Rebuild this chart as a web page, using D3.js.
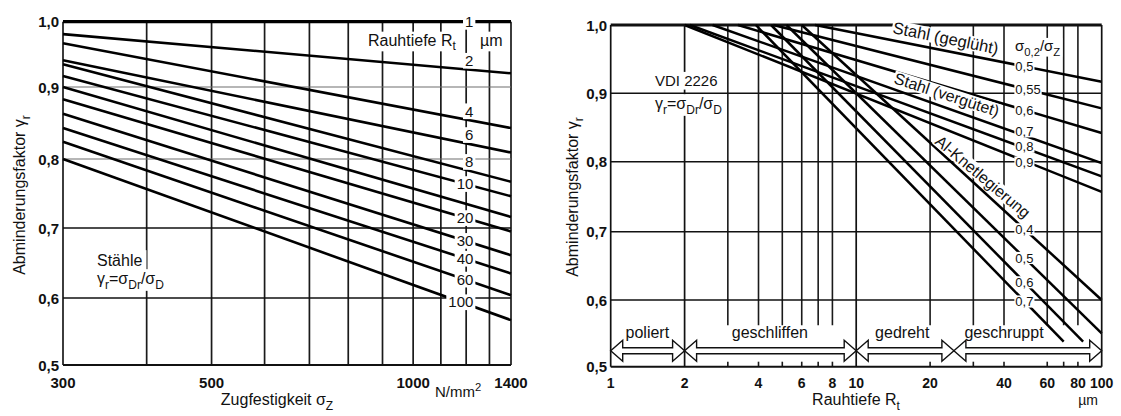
<!DOCTYPE html>
<html><head><meta charset="utf-8">
<script src="https://cdn.jsdelivr.net/npm/d3@7"></script>
<style>
body{margin:0;background:#fff}
svg{display:block}
text{font-family:"Liberation Sans",Arial,Helvetica,sans-serif;fill:#111}
</style>
</head><body>
<svg id="c" width="1121" height="416"></svg>
<script>
// ---------------- DATA ----------------
// shared y ticks (Abminderungsfaktor)
const gammaTicks = [0.5, 0.6, 0.7, 0.8, 0.9, 1.0];

// Left chart: Zugfestigkeit sigma_Z (N/mm2), log axis
const sigmaTicks = [300, 500, 1000, 1400];
const sigmaGrid = [300, 400, 500, 600, 700, 800, 900, 1000, 1100, 1200, 1300, 1400];
const rtLabels     = ["1", "2", "4", "6", "8", "10", "", "20", "30", "40", "60", "100"];
const gammaAt300   = [1.0, 0.981, 0.967, 0.941, 0.935, 0.917, 0.900, 0.883, 0.863, 0.843, 0.824, 0.800];
const gammaAt1400  = [1.0, 0.921, 0.843, 0.809, 0.767, 0.746, 0.716, 0.695, 0.661, 0.635, 0.604, 0.567];
const rtLabelAbove = [false, true, true, true, true, false, false, false, false, false, false, false];
const rtLabelAt = 1230; // label column (sigma value of right edge of labels)

// Right chart: Rauhtiefe Rt (um), log axis
const rtTicks = [1, 2, 4, 6, 8, 10, 20, 40, 60, 80, 100];
const rtGridMajor = [1, 2, 10, 100];
const rtGridMinor = [3, 4, 5, 6, 7, 8, 20, 30, 40, 60, 70, 80];
const steelRatio     = ["0,5", "0,55", "0,6", "0,7", "0,8", "0,9"];
const steelStartRt   = [6.8, 4.6, 3.3, 2.6, 2.1, 2.0];
const steelEndRt     = [100, 100, 100, 100, 100, 100];
const steelEndGamma  = [0.917, 0.878, 0.842, 0.798, 0.779, 0.757];
const alRatio        = ["0,4", "0,5", "0,6", "0,7"];
const alStartRt      = [6.0, 5.2, 4.5, 3.9];
const alEndRt        = [100, 100, 84, 70];
const alEndGamma     = [0.600, 0.550, 0.5375, 0.5375];
const ratioLabelAt = 44.5; // Rt of the label column start
const processes      = ["poliert", "geschliffen", "gedreht", "geschruppt"];
const processFrom    = [1, 2, 10, 25];
const processTo      = [2, 10, 25, 100];
const processLabelAt = [1.41, 4.45, 15.4, 40];

// ---------------- HELPERS ----------------
const svg = d3.select("#c");
svg.append("rect").attr("width", 1121).attr("height", 416).attr("fill", "#fff");

function rich(g, parts, size) {
  const t = g.append("text").attr("font-size", size);
  let shift = 0;
  parts.forEach(p => {
    const [str, kind] = Array.isArray(p) ? p : [p, null];
    const target = kind === "sub" ? size * 0.3 : kind === "sup" ? -size * 0.38 : 0;
    const ts = t.append("tspan").text(str).attr("dy", target - shift);
    if (kind) ts.attr("font-size", size * 0.75);
    shift = target;
  });
  return t;
}
function label(parent, x, y, parts, o = {}) {
  const size = o.size || 15;
  const g = parent.append("g")
    .attr("transform", `translate(${x},${y})` + (o.rotate ? ` rotate(${o.rotate})` : ""));
  const t = rich(g, parts, size)
    .attr("text-anchor", o.anchor || "start")
    .attr("font-weight", o.weight || "normal");
  if (o.knock) {
    const b = t.node().getBBox();
    const p = o.pad ?? 2;
    const top = -0.74 * size - p, bot = (o.desc ? 0.24 * size : 0.04 * size) + p;
    g.insert("rect", "text").attr("x", b.x - p).attr("y", top)
      .attr("width", b.width + 2 * p).attr("height", bot - top).attr("fill", "#fff");
  }
  return g;
}
const fmt = v => d3.format(".1f")(v).replace(".", ",");
const lerpY = (a, b, x) => a[1] + (x - a[0]) / (b[0] - a[0]) * (b[1] - a[1]);

// ---------------- LEFT CHART ----------------
const xL = d3.scaleLog().domain([300, 1400]).range([63, 511]);
const yL = d3.scaleLinear().domain(gammaTicks).range([365, 298, 228, 159, 87, 21.7]);
const gL = svg.append("g");

gL.selectAll("line.vg").data(sigmaGrid).join("line").attr("class", "vg")
  .attr("x1", d => xL(d)).attr("x2", d => xL(d))
  .attr("y1", yL(1)).attr("y2", yL(0.5))
  .attr("stroke", "#1a1a1a").attr("stroke-width", 1.7);
gL.selectAll("line.hg").data(gammaTicks.filter(v => v < 1)).join("line").attr("class", "hg")
  .attr("x1", xL(300)).attr("x2", xL(1400))
  .attr("y1", d => yL(d)).attr("y2", d => yL(d))
  .attr("stroke", d => (d === 0.8 || d === 0.9) ? "#6e6e6e" : "#111")
  .attr("stroke-width", d => (d === 0.8 || d === 0.9) ? 1.2 : (d === 0.5 ? 1.9 : 1.6));

const leftSeries = rtLabels.map((r, i) => ({
  label: r,
  p0: [xL(xL.domain()[0]), yL(gammaAt300[i])],
  p1: [xL(xL.domain()[1]), yL(gammaAt1400[i])],
  above: rtLabelAbove[i]
}));
gL.selectAll("line.curve").data(leftSeries).join("line").attr("class", "curve")
  .attr("x1", d => d.p0[0]).attr("y1", d => d.p0[1])
  .attr("x2", d => d.p1[0]).attr("y2", d => d.p1[1])
  .attr("stroke", "#000").attr("stroke-width", (d, i) => i === 0 ? 3.2 : 2.6);

// axes text left
gammaTicks.forEach(v => label(gL, 59, yL(v) + 5.5, [fmt(v)], { size: 15, anchor: "end", weight: "bold" }));
sigmaTicks.forEach(v => label(gL, xL(v), 388, [String(v)], { size: 15, anchor: "middle", weight: "bold" }));
label(gL, 435, 397, ["N/mm", ["2", "sup"]], { size: 15 });
label(gL, 277, 405, ["Zugfestigkeit σ", ["Z", "sub"]], { size: 16, anchor: "middle" });
label(gL, 25, 195, ["Abminderungsfaktor γ", ["r", "sub"]], { size: 16, anchor: "middle", rotate: -90 });

// annotations left
label(gL, 368, 45.5, ["Rauhtiefe R", ["t", "sub"]], { size: 16, knock: true, desc: true, pad: 2 });
label(gL, 480, 45.5, ["µm"], { size: 16, knock: true, desc: true, pad: 2 });
label(gL, 97, 266, ["Stähle"], { size: 16, knock: true, pad: 4 });
label(gL, 97, 284, ["γ", ["r", "sub"], "=σ", ["Dr", "sub"], "/σ", ["D", "sub"]], { size: 16, knock: true, desc: true, pad: 3 });

// curve labels
leftSeries.forEach(d => {
  if (!d.label) return;
  const xr = xL(rtLabelAt);
  const cx = xr - 8.3 * d.label.length / 2;
  const cyy = lerpY(d.p0, d.p1, cx) - (d.above ? 9 : 0);
  label(gL, xr, cyy + 0.36 * 15, [d.label], { size: 15, anchor: "end", knock: true, pad: 2 });
});

// ---------------- RIGHT CHART ----------------
const xR = d3.scaleLog().domain([1, 100]).range([610.7, 1101.7]);
const yR = d3.scaleLinear().domain(gammaTicks).range([366.7, 300, 231.7, 161.7, 93.3, 25]);
const gR = svg.append("g");

gR.selectAll("line.mg").data(rtGridMinor).join("line").attr("class", "mg")
  .attr("x1", d => xR(d)).attr("x2", d => xR(d))
  .attr("y1", yR(1)).attr("y2", yR(0.562))
  .attr("stroke", "#1a1a1a").attr("stroke-width", 1.6);
gR.selectAll("line.mt").data(rtGridMinor).join("line").attr("class", "mt")
  .attr("x1", d => xR(d)).attr("x2", d => xR(d))
  .attr("y1", yR(0.5) - 5).attr("y2", yR(0.5))
  .attr("stroke", "#1a1a1a").attr("stroke-width", 1.6);
gR.selectAll("line.hg").data(gammaTicks).join("line").attr("class", "hg")
  .attr("x1", xR(1)).attr("x2", xR(100))
  .attr("y1", d => yR(d)).attr("y2", d => yR(d))
  .attr("stroke", "#111")
  .attr("stroke-width", d => d === 1 ? 3.2 : (d === 0.5 ? 1.9 : 1.5));

const steel = steelRatio.map((r, i) => ({
  label: r, p0: [xR(steelStartRt[i]), yR(1)], p1: [xR(steelEndRt[i]), yR(steelEndGamma[i])]
}));
const al = alRatio.map((r, i) => ({
  label: r, p0: [xR(alStartRt[i]), yR(1)], p1: [xR(alEndRt[i]), yR(alEndGamma[i])]
}));
gR.selectAll("line.curve").data(steel.concat(al)).join("line").attr("class", "curve")
  .attr("x1", d => d.p0[0]).attr("y1", d => d.p0[1])
  .attr("x2", d => d.p1[0]).attr("y2", d => d.p1[1])
  .attr("stroke", "#000").attr("stroke-width", 2.5);

// process arrows
const acy = yR(0.5) - 16, sh = 3, hh = 10.5, hl = 12;
processes.forEach((p, i) => {
  const x1 = xR(processFrom[i]), x2 = xR(processTo[i]);
  const pts = [[x1, acy], [x1 + hl, acy - hh], [x1 + hl, acy - sh], [x2 - hl, acy - sh], [x2 - hl, acy - hh],
               [x2, acy], [x2 - hl, acy + hh], [x2 - hl, acy + sh], [x1 + hl, acy + sh], [x1 + hl, acy + hh]];
  gR.append("polygon").attr("points", pts.map(q => q.join(",")).join(" "))
    .attr("fill", "#fff").attr("stroke", "#111").attr("stroke-width", 1.4);
  label(gR, xR(processLabelAt[i]), acy - 12.5, [p], { size: 16, anchor: "middle" });
});

gR.selectAll("line.Mg").data(rtGridMajor).join("line").attr("class", "Mg")
  .attr("x1", d => xR(d)).attr("x2", d => xR(d))
  .attr("y1", yR(1)).attr("y2", yR(0.5))
  .attr("stroke", "#111").attr("stroke-width", 1.7);

// axes text right
gammaTicks.forEach(v => label(gR, 607, yR(v) + 5.5, [fmt(v)], { size: 15, anchor: "end", weight: "bold" }));
rtTicks.forEach(v => label(gR, xR(v), 388, [String(v)], { size: 14, anchor: "middle", weight: "bold" }));
label(gR, 1088, 405, ["µm"], { size: 14, anchor: "middle" });
label(gR, 856, 405, ["Rauhtiefe R", ["t", "sub"]], { size: 16, anchor: "middle" });
label(gR, 578, 197, ["Abminderungsfaktor γ", ["r", "sub"]], { size: 16, anchor: "middle", rotate: -90 });

// annotations right
label(gR, 655, 86, ["VDI 2226"], { size: 15, knock: true, pad: 3 });
label(gR, 655, 109, ["γ", ["r", "sub"], "=σ", ["Dr", "sub"], "/σ", ["D", "sub"]], { size: 16, knock: true, desc: true, pad: 3 });
label(gR, 1015, 51, ["σ", ["0,2", "sub"], "/σ", ["Z", "sub"]], { size: 15, knock: true, desc: true, pad: 2 });
label(gR, 892, 33, ["Stahl (geglüht)"], { size: 16.5, rotate: 11.5, knock: true, pad: 1 });
label(gR, 893, 83, ["Stahl (vergütet)"], { size: 16, rotate: 18, knock: true, pad: 1 });
label(gR, 934, 143, ["Al-Knetlegierung"], { size: 16, rotate: 40, knock: true, pad: 1 });

// ratio labels (steel 0,7 / 0,8 / 0,9 are spread slightly apart, as in the original)
const spread = { "s3": -4.5, "s4": -1.5, "s5": 1.5 };
steel.map((d, i) => ({ ...d, key: "s" + i })).concat(al.map((d, i) => ({ ...d, key: "a" + i }))).forEach(d => {
  const xs = xR(ratioLabelAt);
  const cx = xs + 7.3 * (d.label.length - 0.5) / 2;
  const cyy = lerpY(d.p0, d.p1, cx) + (spread[d.key] || 0);
  label(gR, xs, cyy + 0.36 * 13, [d.label], { size: 13, knock: true, pad: 1 });
});
</script>
</body></html>
